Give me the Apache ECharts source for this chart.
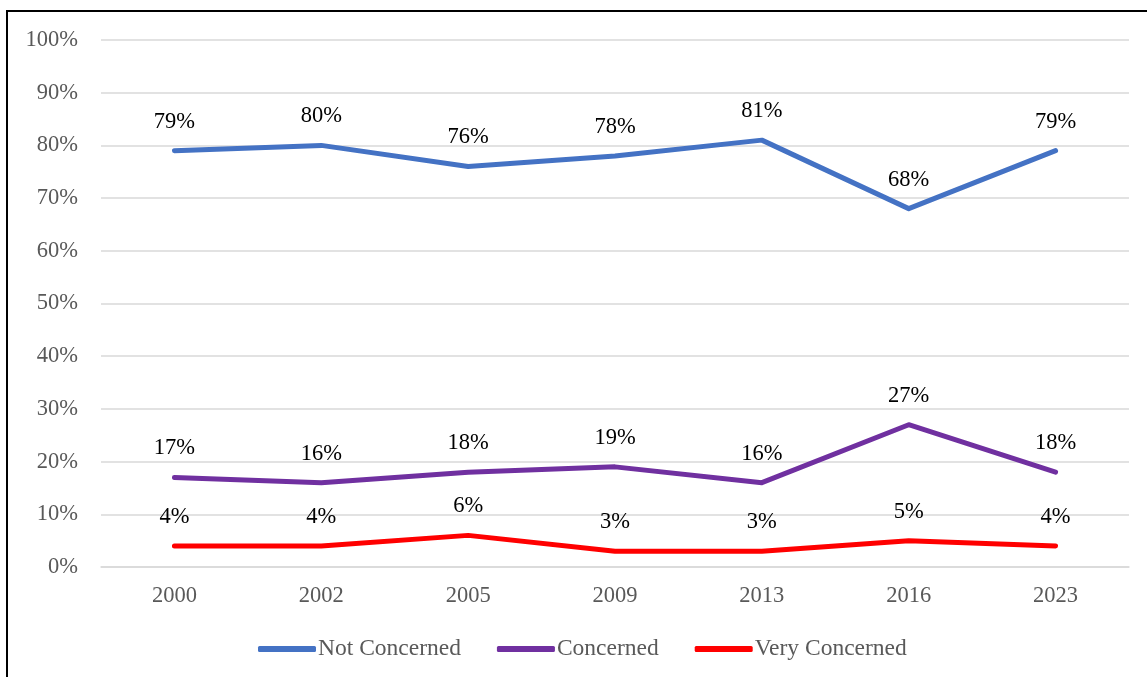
<!DOCTYPE html>
<html>
<head>
<meta charset="utf-8">
<script src="https://cdn.jsdelivr.net/npm/echarts@6/dist/echarts.min.js"></script>
<style>
html,body{margin:0;padding:0;background:#fff;}
#chart{width:1147px;height:677px;}
</style>
</head>
<body>
<div id="chart"></div>
<script>
const categories = ['2000','2002','2005','2009','2013','2016','2023'];
const notConcerned = [79,80,76,78,81,68,79];
const concerned = [17,16,18,19,16,27,18];
const veryConcerned = [4,4,6,3,3,5,4];
const seriesNames = ['Not Concerned','Concerned','Very Concerned'];
const seriesColors = ['#4472C4','#7030A0','#FF0000'];

const FONT = '"Liberation Serif","Times New Roman",serif';
const chart = echarts.init(document.getElementById('chart'), null, {renderer:'canvas'});

function mk(name, data, color){
  return {
    name: name, type: 'line', data: data,
    symbol: 'circle', symbolSize: 1,
    itemStyle: {color: color},
    lineStyle: {color: color, width: 5, cap: 'round', join: 'round'},
    label: {show: true, position: 'top', distance: 17,
      formatter: p => p.value + '%',
      fontFamily: FONT, fontSize: 22.5, color: '#000'},
    emphasis: {disabled: true},
    animation: false
  };
}

chart.setOption({
  animation: false,
  graphic: [{type:'rect', shape:{x:7, y:11, width:1300, height:800},
    style:{fill:'none', stroke:'#000', lineWidth:2}, z:100}],
  grid: {left: 101, right: 18, top: 40, bottom: 110, containLabel: false},
  legend: {
    data: seriesNames, left: 253, top: 632,
    icon: 'roundRect', itemWidth: 58, itemHeight: 6, itemGap: 36,
    textStyle: {fontFamily: FONT, fontSize: 23.5, color: '#595959', padding:[0,0,0,-3]}
  },
  xAxis: {
    type: 'category', data: categories, boundaryGap: true,
    axisLine: {show: true, lineStyle: {color: '#D9D9D9', width: 1.5}},
    axisTick: {show: false},
    axisLabel: {fontFamily: FONT, fontSize: 22.5, color: '#595959', margin: 18}
  },
  yAxis: {
    type: 'value', min: 0, max: 100, interval: 10,
    axisLine: {show: false}, axisTick: {show: false},
    splitLine: {lineStyle: {color: '#D9D9D9', width: 1.5}},
    axisLabel: {fontFamily: FONT, fontSize: 22.5, color: '#595959', margin: 23,
      formatter: v => v + '%'}
  },
  series: [
    mk(seriesNames[0], notConcerned, seriesColors[0]),
    mk(seriesNames[1], concerned, seriesColors[1]),
    mk(seriesNames[2], veryConcerned, seriesColors[2])
  ]
});
</script>
</body>
</html>
